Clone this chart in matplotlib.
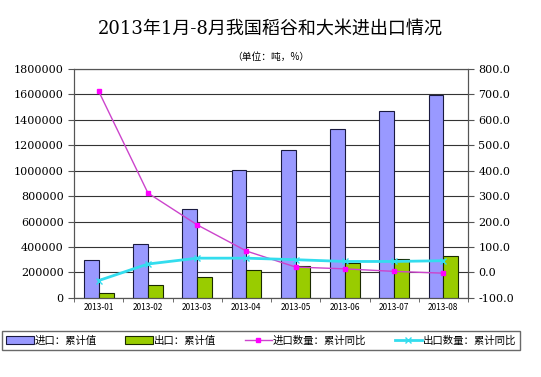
import matplotlib.pyplot as plt
import numpy as np

plt.rcParams['font.family'] = ['Noto Sans CJK SC', 'DejaVu Sans']

months = ['2013-01', '2013-02', '2013-03', '2013-04', '2013-05', '2013-06', '2013-07', '2013-08']
import_total = [300000, 424000, 702000, 1006000, 1163000, 1328000, 1472000, 1593000]
export_total = [41000, 102000, 163000, 218000, 254000, 277000, 304000, 330000]
import_yoy = [712, 312, 187, 84, 21, 14, 4, -3]
export_yoy = [-32, 33, 56, 56, 50, 43, 43, 46]

fig = plt.figure(figsize=(5.41, 3.77), dpi=100)
ax = fig.add_axes([0.137, 0.21, 0.728, 0.607])
ax2 = ax.twinx()

x = np.arange(len(months))
w = 0.3
b1 = ax.bar(x - w / 2, import_total, w, color='#9999ff', edgecolor='#1a1a40', linewidth=0.8, zorder=3)
b2 = ax.bar(x + w / 2, export_total, w, color='#99cc00', edgecolor='#1a2a00', linewidth=0.8, zorder=3)

l1, = ax2.plot(x, import_yoy, color='#cc44cc', lw=1, marker='s', ms=3.5,
               mfc='#ff00ff', mec='#ff00ff', zorder=4)
l2, = ax2.plot(x, export_yoy, color='#33ddee', lw=2, marker='x', ms=4,
               mec='#33ddee', zorder=4)

ax.set_xlim(-0.5, len(months) - 0.5)
ax.set_ylim(0, 1800000)
yt = list(range(0, 1800001, 200000))
ax.set_yticks(yt)
ax.set_yticklabels([str(v) for v in yt], family=['DejaVu Serif'])
ax.yaxis.grid(True, color='#333333', lw=0.8)
ax.set_axisbelow(True)
ax.set_xticks(x)
ax.set_xticklabels(months, fontsize=6)
ax.set_xticks(np.arange(-0.5, len(months), 1), minor=True)
ax.tick_params(axis='x', which='major', length=0, pad=4)
ax.tick_params(axis='x', which='minor', length=3, color='#555555')
ax.tick_params(axis='y', labelsize=8, length=4, color='#555555')

ax2.set_ylim(-100, 800)
rt = list(range(-100, 801, 100))
ax2.set_yticks(rt)
ax2.set_yticklabels(['%.1f' % v for v in rt], fontsize=8, family=['DejaVu Serif'])
ax2.tick_params(axis='y', length=4, color='#555555')

for a in (ax, ax2):
    for s in a.spines.values():
        s.set_color('#555555')
        s.set_linewidth(0.8)
ax.set_zorder(ax2.get_zorder() - 1)
ax2.patch.set_visible(False)

fig.text(0.5, 0.925, '2013年1月-8月我国稻谷和大米进出口情况', ha='center', va='center',
         fontsize=13, family=['DejaVu Serif', 'Noto Sans CJK SC'])
fig.text(0.5, 0.848, '（单位：吨，%）', ha='center', va='center', fontsize=7)

leg = fig.legend([b1, b2, l1, l2], ['进口：累计值', '出口：累计值', '进口数量：累计同比', '出口数量：累计同比'],
                 loc='center', bbox_to_anchor=(0.483, 0.097), ncol=4, fontsize=7.5,
                 frameon=True, fancybox=False, edgecolor='#444444', columnspacing=2.75,
                 handlelength=2.6, handletextpad=0.1, borderpad=0.4, borderaxespad=0)
leg.get_frame().set_linewidth(1)

fig.savefig('out.png', dpi=100)
